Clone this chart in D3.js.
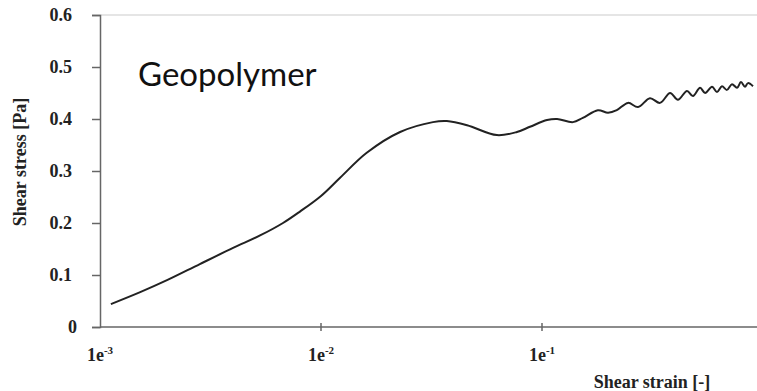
<!DOCTYPE html>
<html>
<head>
<meta charset="utf-8">
<script src="https://cdn.jsdelivr.net/npm/d3@7"></script>
<style>
  body { margin: 0; background: #fff; }
  svg { display: block; }
  .tick text { font-family: "Liberation Serif", "Times New Roman", serif; font-weight: bold; font-size: 18px; fill: #222; }
</style>
</head>
<body>
<div id="graph"></div>
<script>
// shear strain [-] and shear stress [Pa]
var strain = [0.00112, 0.00152, 0.00201, 0.00283, 0.00400, 0.00530, 0.00673, 0.00803, 0.0100,
  0.0122, 0.0161, 0.0228, 0.0321, 0.0371, 0.0458, 0.0625, 0.0770, 0.0882, 0.1054,
  0.117, 0.138, 0.153, 0.179, 0.199, 0.218, 0.245, 0.272, 0.308, 0.342, 0.380,
  0.412, 0.453, 0.482, 0.519, 0.547, 0.588, 0.619, 0.652, 0.687, 0.724, 0.763,
  0.795, 0.829, 0.855, 0.901];
var stress = [0.044, 0.067, 0.090, 0.121, 0.152, 0.176, 0.200, 0.222, 0.252,
  0.287, 0.335, 0.375, 0.394, 0.396, 0.388, 0.369, 0.375, 0.385, 0.398,
  0.400, 0.394, 0.402, 0.417, 0.412, 0.417, 0.431, 0.423, 0.440, 0.431, 0.450,
  0.437, 0.454, 0.444, 0.460, 0.450, 0.462, 0.452, 0.463, 0.456, 0.467, 0.460,
  0.471, 0.462, 0.469, 0.463];

var xTicks = [0.001, 0.01, 0.1];
var xTickExp = ["-3", "-2", "-1"];
var yTicks = [0, 0.1, 0.2, 0.3, 0.4, 0.5, 0.6];

var W = 757, H = 391;
var margin = {top: 15, left: 100, bottom: 64};
var decade = 221; // px per decade

var svg = d3.select("#graph").append("svg")
  .attr("width", W).attr("height", H);

var x = d3.scaleLog()
  .domain([0.001, Math.pow(10, -3 + (W - margin.left) / decade)])
  .range([margin.left, W]);
var y = d3.scaleLinear().domain([0, 0.6]).range([H - margin.bottom, margin.top]);

// faint top border
svg.append("line")
  .attr("x1", x(0.001)).attr("x2", W)
  .attr("y1", y(0.6)).attr("y2", y(0.6))
  .attr("stroke", "#ddd").attr("stroke-width", 1.5);

// y axis
var yAxis = d3.axisLeft(y).tickValues(yTicks).tickSize(8).tickPadding(20)
  .tickFormat(function(d){ return d === 0 ? "0" : d3.format(".1f")(d); });
var gy = svg.append("g").attr("transform", "translate(" + x(0.001) + ",0)").call(yAxis);
gy.select(".domain").attr("stroke", "#666").attr("stroke-width", 1.5);
gy.selectAll(".tick line").attr("stroke", "#666").attr("stroke-width", 1.5);
gy.selectAll(".tick text").filter(function(d){ return d === 0; }).attr("dx", 5);

// x axis
var gx = svg.append("g").attr("transform", "translate(0," + y(0) + ")");
gx.append("line").attr("x1", x(0.001)).attr("x2", W)
  .attr("stroke", "#666").attr("stroke-width", 1.5);
var xt = gx.selectAll(".tick").data(xTicks).enter().append("g")
  .attr("class", "tick")
  .attr("transform", function(d){ return "translate(" + x(d) + ",0)"; });
xt.filter(function(d){ return d !== 0.001; }).append("line")
  .attr("y1", -4).attr("y2", 4).attr("stroke", "#666").attr("stroke-width", 1.5);
var lab = xt.append("text").attr("y", 34).attr("text-anchor", "middle");
lab.append("tspan").text("1e");
lab.append("tspan").attr("dy", -7).style("font-size", "11px")
  .text(function(d, i){ return xTickExp[i]; });

// curve
var pts = strain.map(function(s, i){ return [s, stress[i]]; });
svg.append("path")
  .datum(pts)
  .attr("fill", "none")
  .attr("stroke", "#222")
  .attr("stroke-width", 2)
  .attr("d", d3.line()
    .x(function(d){ return x(d[0]); })
    .y(function(d){ return y(d[1]); })
    .curve(d3.curveCatmullRom));

// labels
svg.append("text")
  .attr("transform", "translate(26,162) rotate(-90)")
  .attr("text-anchor", "middle")
  .style("font-family", "'Liberation Serif', serif").style("font-weight", "bold").style("font-size", "18px")
  .attr("fill", "#222")
  .text("Shear stress [Pa]");

svg.append("text")
  .attr("x", 652).attr("y", 388)
  .attr("text-anchor", "middle")
  .style("font-family", "'Liberation Serif', serif").style("font-weight", "bold").style("font-size", "18px")
  .attr("fill", "#222")
  .text("Shear strain [-]");

svg.append("text")
  .attr("x", 138).attr("y", 86)
  .style("font-family", "Lato, 'Open Sans', sans-serif").style("font-size", "33px")
  .attr("fill", "#111")
  .text("Geopolymer");
</script>
</body>
</html>
